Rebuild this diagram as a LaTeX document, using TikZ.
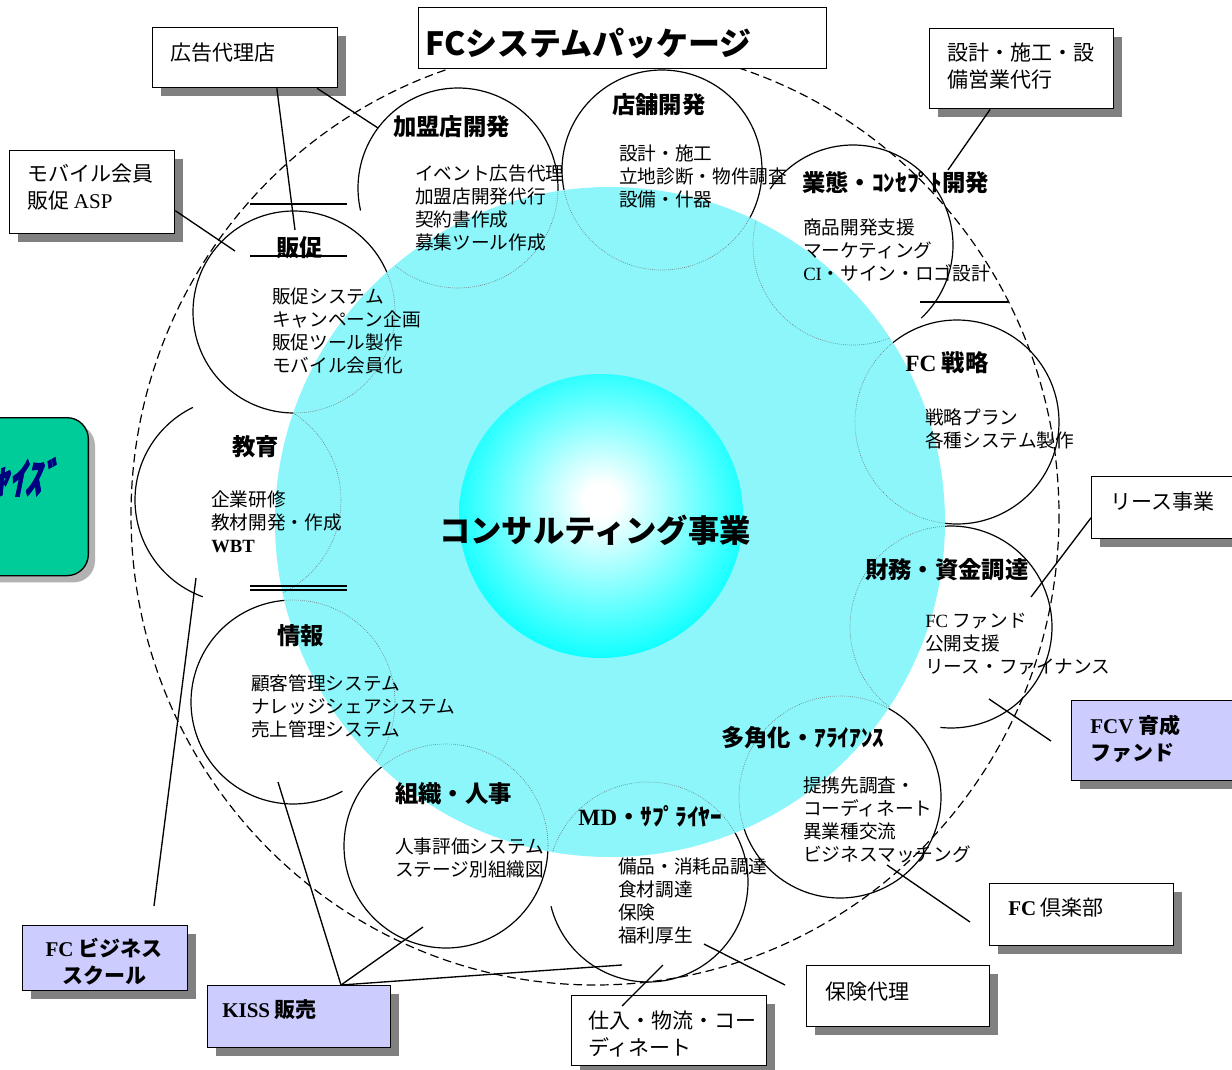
\documentclass[tikz,border=0pt]{standalone}
\usepackage{fontspec}
\setmainfont{Noto Sans CJK JP}
\newfontfamily\tms{Liberation Serif}
\usetikzlibrary{calc,shadows}
\definecolor{lagoon}{RGB}{140,246,250}
\definecolor{lilac}{RGB}{204,204,255}
\definecolor{mint}{RGB}{0,204,153}
\definecolor{navyink}{RGB}{0,0,128}
\pgfdeclareradialshading{glowball}{\pgfpoint{0bp}{3bp}}{color(0bp)=(white); color(3bp)=(white); color(28bp)=(cyan); color(50bp)=(cyan)}
\newcommand{\itemfont}{\fontsize{14}{17.25}\selectfont}
\newcommand{\headfont}{\fontsize{17.5}{21}\selectfont\bfseries}
\newcommand{\boxfont}{\fontsize{15.75}{20.25}\selectfont}
\newcommand{\ringarc}[5]{\draw[ring] plot[domain=#4:#5,samples=80] ({#1+#3*cos(\x)},{#2+#3*sin(\x)});}

\begin{document}
\begin{tikzpicture}[x=0.75pt,y=-0.75pt,
    ring/.style={line width=0.9pt},
    hidden/.style={black!55, densely dotted, line width=0.5pt},
    box/.style={draw, fill=white, line width=1pt, anchor=north west, inner sep=0pt,
      drop shadow={shadow xshift=6pt, shadow yshift=-6pt, fill=black!50, opacity=1}},
    lilacbox/.style={box, fill=lilac},
    txt/.style={anchor=west, inner sep=0pt, align=left},
    head/.style={txt, font=\headfont},
    items/.style={txt, font=\itemfont},
    boxtxt/.style={txt, font=\boxfont},
    link/.style={line width=1pt},
    rule/.style={line width=1.5pt}]

      \useasboundingbox (0,0) rectangle (1232,1070);
      \fill[white] (0,0) rectangle (1232,1070);

      % outer package ring
      \draw[line width=0.9pt, dash pattern=on 6.5pt off 3.5pt] (595,515) ellipse[x radius=464, y radius=470];

      % the eleven service rings, only the parts lying on white
      \ringarc{458}{188}{100}{167}{375}
      \draw[ring] (662,170) circle[radius=100];
      \ringarc{853}{245}{100}{214}{407}
      \draw[ring] (957,422) circle[radius=102];
      \ringarc{951}{627}{101}{-110}{96}
      \draw[ring] (840,797) circle[radius=101];
      \ringarc{648}{882}{100}{-45}{166}
      \draw[ring] (446,846) circle[radius=102];
      \ringarc{293}{702}{102}{61}{275}
      \ringarc{238}{500}{103}{110}{244}
      \draw[ring] (294,312) circle[radius=101];

      % consulting disc
      \fill[lagoon] (610,522) circle[radius=335];
      \begin{scope}
        \clip (610,522) circle[radius=335];
        \foreach \cx/\cy/\r in {458/188/100, 662/170/100, 853/245/100, 957/422/102,
            951/627/101, 840/797/101, 648/882/100, 446/846/102, 293/702/102,
            238/500/103, 294/312/101}
          \draw[hidden] (\cx,\cy) circle[radius=\r];
      \end{scope}
      \shade[shading=glowball] (601,516) circle[radius=142];
      \node[font=\fontsize{23.5}{28}\selectfont\bfseries] (core) at (595,530) {コンサルティング事業};

      \draw[rule] (250,204) -- (347,204);
      \draw[rule] (250,256) -- (347,256);
      \draw[line width=0.9pt] (250,586) -- (347,586);
      \draw[line width=0.9pt] (250,590) -- (347,590);
      \draw[rule] (920,302) -- (1008,302);

      % ring titles and contents
      \node[head] (kameiH) at (393,127) {加盟店開発};
      \node[items] (kameiI) at (415,207.5) {イベント広告代理\\加盟店開発代行\\契約書作成\\募集ツール作成};
      \node[head] (tenpoH) at (612,105) {店舗開発};
      \node[items] (tenpoI) at (619,176) {設計・施工\\立地診断・物件調査\\設備・什器};
      \node[head] (gyotaiH) at (802,183) {業態・ｺﾝｾﾌﾟﾄ開発};
      \node[items] (gyotaiI) at (803,250.5) {商品開発支援\\マーケティング\\{\tms CI}・サイン・ロゴ設計};
      \node[head] (senryakuH) at (905,363) {{\tms FC} 戦略};
      \node[items] (senryakuI) at (925,428.5) {戦略プラン\\各種システム製作};
      \node[head] (zaimuH) at (865,570) {財務・資金調達};
      \node[items] (zaimuI) at (925,644) {{\tms FC} ファンド\\公開支援\\リース・ファイナンス};
      \node[head] (takakuH) at (721,738) {多角化・ｱﾗｲｱﾝｽ};
      \node[items] (takakuI) at (803,819.5) {提携先調査・\\コーディネート\\異業種交流\\ビジネスマッチング};
      \node[head] (mdH) at (578,816) {{\tms MD}・ｻﾌﾟﾗｲﾔｰ};
      \node[items] (mdI) at (618,900.5) {備品・消耗品調達\\食材調達\\保険\\福利厚生};
      \node[head] (soshikiH) at (395,794) {組織・人事};
      \node[items] (soshikiI) at (395,857.5) {人事評価システム\\ステージ別組織図};
      \node[head] (johoH) at (277,636) {情報};
      \node[items] (johoI) at (251,706) {顧客管理システム\\ナレッジシェアシステム\\売上管理システム};
      \node[head] (kyoikuH) at (232,447) {教育};
      \node[items] (kyoikuI) at (211,521.5) {企業研修\\教材開発・作成\\{\tms\bfseries WBT}};
      \node[head] (hansokuH) at (276,248) {販促};
      \node[items] (hansokuI) at (272,330.5) {販促システム\\キャンペーン企画\\販促ツール製作\\モバイル会員化};

      % title
      \node[draw, fill=white, line width=0.9pt, anchor=north west, inner sep=0pt,
        minimum width=306pt, minimum height=45.75pt] (title) at (418,7) {};
      \node[txt, font=\fontsize{24}{28}\selectfont\bfseries] (titleT) at (425,43) {FCシステムパッケージ};

      % partner boxes
      \node[box, minimum width=138.75pt, minimum height=45pt] (ad) at (152,27) {};
      \node[boxtxt] (adT) at (170,53) {広告代理店};
      \node[box, minimum width=123.75pt, minimum height=62.25pt] (mobile) at (9,150) {};
      \node[boxtxt] (mobileT) at (27,187) {モバイル会員\\販促 {\tms ASP}};
      \node[box, minimum width=138pt, minimum height=60pt] (sekkei) at (929,28) {};
      \node[boxtxt] (sekkeiT) at (947,66.5) {設計・施工・設\\備営業代行};
      \node[box, minimum width=112.5pt, minimum height=46.5pt] (lease) at (1091,476) {};
      \node[boxtxt] (leaseT) at (1110,502) {リース事業};
      \node[lilacbox, minimum width=127.5pt, minimum height=60pt] (fcv) at (1071,700) {};
      \node[boxtxt, font=\boxfont\bfseries] (fcvT) at (1090,738.5) {{\tms FCV} 育成\\ファンド};
      \node[box, minimum width=138pt, minimum height=46.5pt] (club) at (989,883) {};
      \node[boxtxt] (clubT) at (1008,908) {{\tms\bfseries FC} 倶楽部};
      \node[box, minimum width=137.25pt, minimum height=45.75pt] (hoken) at (806,965) {};
      \node[boxtxt] (hokenT) at (825,992) {保険代理};
      \node[box, minimum width=146.25pt, minimum height=52.5pt] (shiire) at (571,995) {};
      \node[boxtxt] (shiireT) at (588,1033.5) {仕入・物流・コー\\ディネート};
      \node[lilacbox, minimum width=137.25pt, minimum height=46.5pt] (kiss) at (207,985) {};
      \node[boxtxt, font=\boxfont\bfseries] (kissT) at (222,1010) {{\tms KISS} 販売};
      \node[lilacbox, minimum width=123.75pt, minimum height=48.75pt] (school) at (22,925) {};
      \node[font=\boxfont\bfseries, align=center, inner sep=0pt] (schoolT) at (104,961.5) {{\tms FC} ビジネス\\スクール};

      % franchise block at the left edge
      \node[draw, fill=mint, line width=1pt, rounded corners=16pt, anchor=north east, inner sep=0pt,
        minimum width=100pt, minimum height=118.5pt,
        drop shadow={shadow xshift=5pt, shadow yshift=-5pt, fill=black!30, opacity=1}] (fc) at (89,417) {};
      \node[anchor=east, inner sep=0pt, text=navyink,
        font=\fontsize{32}{36}\selectfont\bfseries\addfontfeatures{FakeSlant=0.2,FakeStretch=0.75,FakeBold=1.5}] (fcT) at (57,477) {ｬｲｽﾞ};

      % connectors
      \coordinate (adA) at (295,230);
      \coordinate (adB) at (378,128);
      \coordinate (mobileA) at (235,251);
      \coordinate (sekkeiA) at (948,170);
      \coordinate (leaseA) at (1031,597);
      \coordinate (fcvA) at (989,699);
      \coordinate (fcvB) at (1051,741);
      \coordinate (clubA) at (887,865);
      \coordinate (clubB) at (970,922);
      \coordinate (hokenA) at (704,944);
      \coordinate (hokenB) at (785,985);
      \coordinate (shiireA) at (663,965);
      \coordinate (kissA) at (278,782);
      \coordinate (kissB) at (423,927);
      \coordinate (kissC) at (622,965);
      \coordinate (schoolA) at (154,906);
      \coordinate (schoolB) at (196,578);

      \draw[link] ($(ad.south west)!.67!(ad.south east)$) -- (adA);
      \draw[link] ($(ad.south west)!.886!(ad.south east)$) -- (adB);
      \draw[link] ($(mobile.north east)!.72!(mobile.south east)$) -- (mobileA);
      \draw[link] ($(sekkei.south west)!.33!(sekkei.south east)$) -- (sekkeiA);
      \draw[link] ($(lease.north west)!.66!(lease.south west)$) -- (leaseA);
      \draw[link] (fcvA) -- (fcvB);
      \draw[link] (clubA) -- (clubB);
      \draw[link] (hokenA) -- (hokenB);
      \draw[link] ($(shiire.north west)!.26!(shiire.north east)+(0,11)$) -- (shiireA);
      \draw[link] ($(kiss.north west)!.727!(kiss.north east)$) -- (kissA);
      \draw[link] ($(kiss.north west)!.727!(kiss.north east)$) -- (kissB);
      \draw[link] ($(kiss.north west)!.727!(kiss.north east)$) -- (kissC);
      \draw[link] (schoolA) -- (schoolB);

    \end{tikzpicture}
\end{document}
